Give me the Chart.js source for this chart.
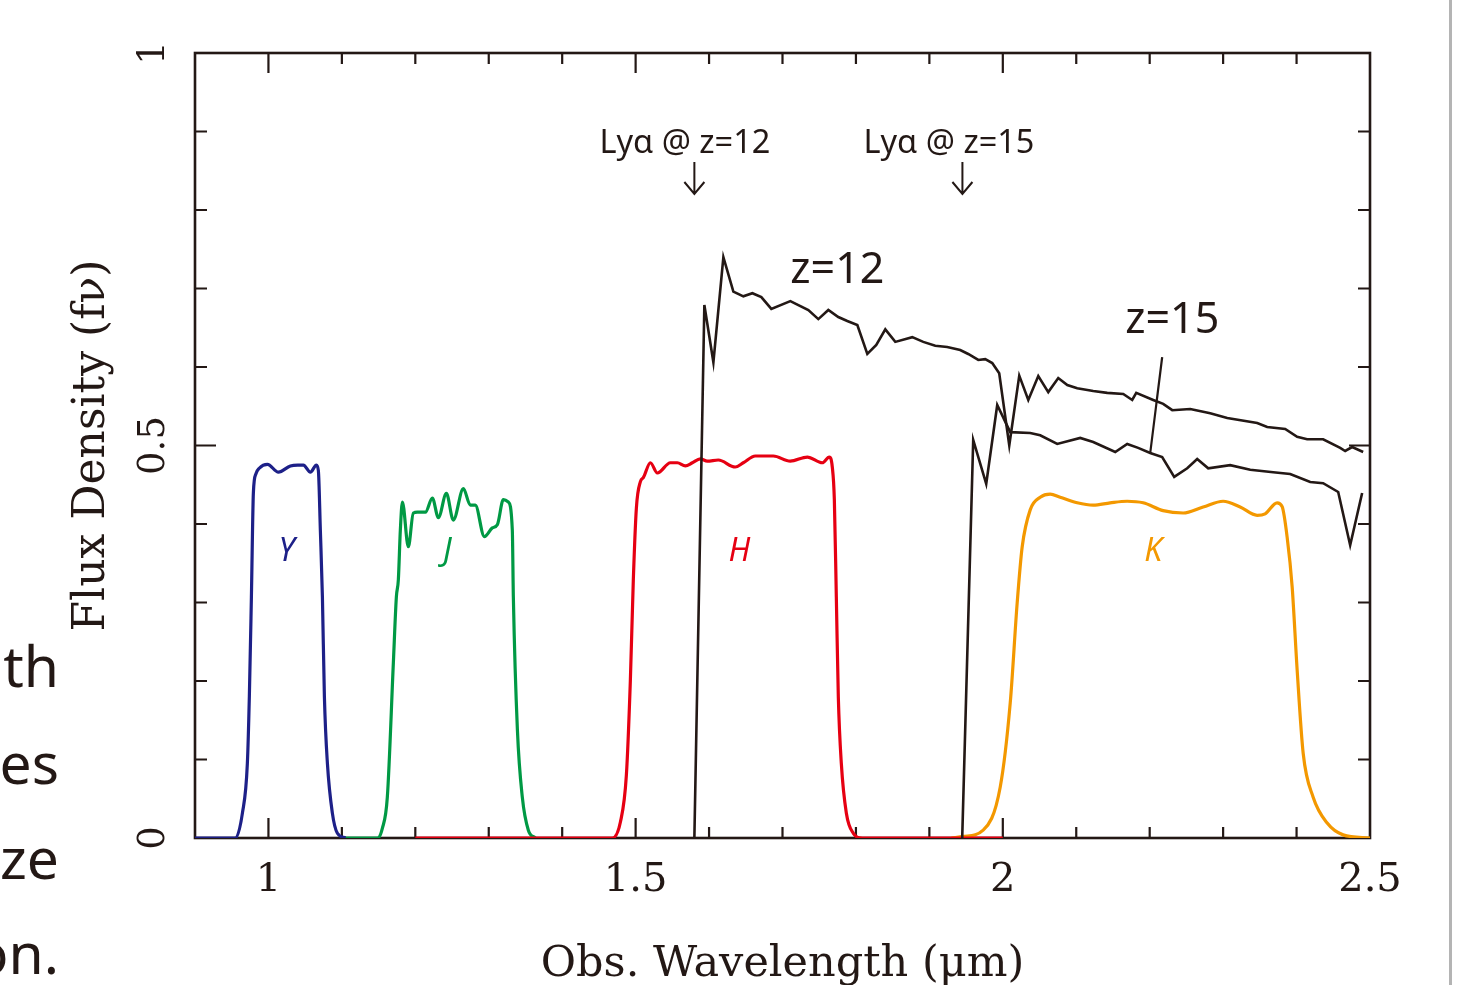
<!DOCTYPE html>
<html>
<head>
<meta charset="utf-8">
<script src="https://cdn.jsdelivr.net/npm/chart.js@4.4.1/dist/chart.umd.min.js"></script>
<style>
  html, body { margin: 0; padding: 0; background: #fff; }
  #wrap { position: relative; width: 1459px; height: 985px; overflow: hidden; background: #fff; }
  #chart { position: absolute; left: 0; top: 0; }
  .slide { position: absolute; right: 1400px; font-family: "Noto Sans", sans-serif; font-size: 57px;
           line-height: 1; color: #231815; white-space: nowrap; }
  #edge { position: absolute; left: 1449px; top: 0; width: 3px; height: 985px; background: #b4b4b4; }
</style>
</head>
<body>
<div id="wrap">
  <canvas id="chart" width="1459" height="985"></canvas>
  <div class="slide" style="top:637px">th</div>
  <div class="slide" style="top:734px">es</div>
  <div class="slide" style="top:829px">ze</div>
  <div class="slide" style="top:924px">on.</div>
  <div id="edge"></div>
</div>
<script>
// ========================== Datos
const yBandWl = [0.90,0.955,0.9646,0.9713,0.974,0.9768,0.9795,0.983,0.9875,0.9986,1.0136,1.0299,1.040,1.0476,1.0571,1.0653,1.068,1.0707,1.0735,1.0762,1.0803,1.087,1.0939,1.105];
const yBandT  = [0,0,0.032,0.095,0.18,0.307,0.44,0.464,0.471,0.476,0.466,0.474,0.475,0.475,0.466,0.475,0.468,0.392,0.307,0.18,0.095,0.032,0.006,0];

const jBandWl = [1.10,1.1485,1.155,1.1619,1.1701,1.1742,1.1769,1.1796,1.1824,1.1905,1.1973,1.2028,1.2137,1.2232,1.2314,1.2423,1.2518,1.2654,1.2749,1.2817,1.294,1.3049,1.3117,1.3199,1.3267,1.3321,1.3335,1.339,1.3457,1.3539,1.3634];
const jBandT  = [0,0,0.012,0.052,0.223,0.307,0.329,0.392,0.428,0.371,0.414,0.415,0.415,0.433,0.408,0.439,0.405,0.445,0.424,0.424,0.384,0.395,0.399,0.431,0.428,0.392,0.307,0.138,0.052,0.01,0];

const hBandWl = [1.20,1.4683,1.4792,1.4874,1.4928,1.4969,1.5010,1.5065,1.5105,1.5201,1.5296,1.5473,1.5568,1.5677,1.5772,1.5881,1.5976,1.6126,1.6357,1.6466,1.663,1.6875,1.7106,1.7338,1.7542,1.7637,1.7678,1.7706,1.7733,1.776,1.7801,1.7869,1.7965,1.8087,2.00];
const hBandT  = [0,0,0.02,0.08,0.2,0.33,0.42,0.454,0.459,0.478,0.465,0.478,0.478,0.474,0.478,0.483,0.480,0.4815,0.4726,0.478,0.4866,0.4866,0.480,0.4853,0.478,0.4853,0.4726,0.431,0.307,0.18,0.095,0.032,0.006,0,0];

const kBandWl = [1.93,1.9461,1.9733,1.9965,2.0101,2.0196,2.0264,2.0373,2.0509,2.0645,2.0781,2.1013,2.1231,2.1462,2.1693,2.1911,2.2183,2.2456,2.2728,2.3000,2.3232,2.3463,2.3572,2.3735,2.3804,2.3872,2.394,2.4008,2.409,2.4226,2.4417,2.4634,2.5];
const kBandT  = [0,0.002,0.01,0.065,0.172,0.3,0.371,0.418,0.434,0.438,0.434,0.427,0.424,0.427,0.429,0.427,0.417,0.414,0.4217,0.429,0.4217,0.411,0.413,0.427,0.422,0.383,0.32,0.214,0.108,0.052,0.019,0.004,0];

const z12Wl   = [1.58,1.5936,1.6059,1.6195,1.6331,1.6467,1.659,1.6712,1.6848,1.7107,1.7352,1.7488,1.7624,1.776,1.7882,1.8019,1.8155,1.8277,1.84,1.8536,1.8767,1.8917,1.908,1.9243,1.942,1.9529,1.9666,1.9761,1.9856,1.9951,2.0088,2.0224,2.0347,2.0483,2.0619,2.0755,2.0878,2.1013,2.1231,2.1422,2.164,2.1762,2.1817,2.2048,2.2184,2.2307,2.2552,2.2824,2.3056,2.3464,2.36,2.3845,2.4008,2.4144,2.4362,2.4594,2.4662,2.4757,2.4907];
const z12Flux = [0,0.679,0.606,0.740,0.696,0.690,0.694,0.689,0.674,0.684,0.6726,0.661,0.6726,0.6637,0.6586,0.6535,0.6166,0.628,0.648,0.632,0.638,0.632,0.627,0.6255,0.6217,0.6166,0.609,0.610,0.605,0.592,0.5,0.589,0.558,0.5885,0.568,0.586,0.577,0.573,0.5694,0.567,0.5656,0.558,0.567,0.558,0.553,0.545,0.5465,0.541,0.535,0.5287,0.5236,0.521,0.511,0.508,0.508,0.497,0.493,0.498,0.4917];

const z15Wl   = [1.9447,1.9597,1.9774,1.9924,2.0101,2.0373,2.0509,2.0741,2.1054,2.1231,2.1531,2.1694,2.1843,2.2007,2.2170,2.2334,2.2511,2.2647,2.2797,2.3096,2.3369,2.3682,2.3913,2.4186,2.4362,2.4567,2.473,2.4893];
const z15Flux = [0,0.507,0.451,0.5516,0.517,0.516,0.513,0.502,0.5096,0.5045,0.4917,0.502,0.497,0.4904,0.4854,0.46,0.471,0.4828,0.471,0.475,0.469,0.466,0.4637,0.4535,0.452,0.4408,0.373,0.4395];

// línea que une la etiqueta z=15 con su espectro
const leaderWl   = [2.2170, 2.2007];
const leaderFlux = [0.6127, 0.4904];

const xTickLabels = [1, 1.5, 2, 2.5];
const yTickLabels = [0, 0.5, 1];

const bandNames  = ['Y', 'J', 'H', 'K'];
const specNames  = ['z=12', 'z=15'];
const lyaNames   = ['Lyα @ z=12', 'Lyα @ z=15'];
const lyaWl      = [1.58, 1.945];

// ========================== Estilos
const ink    = '#231815';
const serif  = '"DejaVu Serif", serif';
const sans   = '"Noto Sans", sans-serif';
const bandColors = ['#1d2088', '#009944', '#e60012', '#f39800'];

// posiciones (en unidades de datos) de las etiquetas
const bandLabelAt = [[1.0247, 0.365], [1.2437, 0.365], [1.6412, 0.365], [2.2048, 0.365]];
const specLabelAt = [[1.7107, 0.707], [2.1668, 0.643]];

const pts = (xs, ys) => xs.map((x, i) => ({ x: x, y: ys[i] }));

function spectrum(label, data) {
    return { label, data, borderColor: ink, borderWidth: 2.6, pointRadius: 0,
             tension: 0, borderJoinStyle: 'miter', fill: false };
}
function band(label, data, color) {
    return { label, data, borderColor: color, borderWidth: 3.2, pointRadius: 0,
             cubicInterpolationMode: 'monotone', fill: false };
}

// ========================== Marco y marcas de los ejes (hacia dentro)
const frameTicks = {
    id: 'frameTicks',
    beforeDatasetsDraw(chart) {
        const { ctx, chartArea: a, scales: { x, y } } = chart;
        ctx.save();
        ctx.strokeStyle = ink;
        ctx.lineWidth = 2.6;
        ctx.strokeRect(a.left, a.top, a.right - a.left, a.bottom - a.top);
        ctx.lineWidth = 2.2;
        ctx.beginPath();
        x.ticks.forEach(t => {
            const v = Math.round(t.value * 10) / 10;
            if (v <= x.min || v >= x.max) return;
            const px = x.getPixelForValue(v);
            const len = xTickLabels.includes(v) ? 20 : 11;
            ctx.moveTo(px, a.bottom); ctx.lineTo(px, a.bottom - len);
            ctx.moveTo(px, a.top);    ctx.lineTo(px, a.top + len);
        });
        y.ticks.forEach(t => {
            const v = Math.round(t.value * 10) / 10;
            if (v <= y.min || v >= y.max) return;
            const py = y.getPixelForValue(v);
            const len = yTickLabels.includes(v) ? 21 : 12;
            ctx.moveTo(a.left, py);  ctx.lineTo(a.left + len, py);
            ctx.moveTo(a.right, py); ctx.lineTo(a.right - len, py);
        });
        ctx.stroke();
        ctx.restore();
    },
    afterDatasetsDraw(chart) {
        const { ctx, scales: { x, y } } = chart;
        ctx.save();
        ctx.fillStyle = ink;

        // etiquetas del eje y, giradas
        ctx.font = '37px ' + serif;
        ctx.textAlign = 'center';
        ctx.textBaseline = 'middle';
        yTickLabels.forEach(v => {
            ctx.save();
            ctx.translate(154, y.getPixelForValue(v));
            ctx.rotate(-Math.PI / 2);
            ctx.fillText(String(v), 0, 0);
            ctx.restore();
        });

        // Lyα con flechas
        ctx.font = '32.5px ' + sans;
        ctx.textAlign = 'left';
        ctx.textBaseline = 'alphabetic';
        ctx.strokeStyle = ink;
        ctx.lineWidth = 2;
        lyaWl.forEach((wl, i) => {
            const px = x.getPixelForValue(wl);
            ctx.fillText(lyaNames[i], px - 95 - i * 4, 153);
            ctx.beginPath();
            ctx.moveTo(px, 162); ctx.lineTo(px, 194);
            ctx.moveTo(px - 10, 182); ctx.lineTo(px, 194); ctx.lineTo(px + 10, 182);
            ctx.stroke();
        });

        // z=12 / z=15
        ctx.font = '43px ' + sans;
        specNames.forEach((s, i) => {
            ctx.fillText(s, x.getPixelForValue(specLabelAt[i][0]), y.getPixelForValue(specLabelAt[i][1]));
        });

        // nombres de los filtros
        ctx.font = 'italic 32px ' + sans;
        ctx.textAlign = 'center';
        ctx.textBaseline = 'middle';
        bandNames.forEach((b, i) => {
            ctx.fillStyle = bandColors[i];
            ctx.fillText(b, x.getPixelForValue(bandLabelAt[i][0]), y.getPixelForValue(bandLabelAt[i][1]));
        });
        ctx.restore();
    }
};

// ========================== Gráfica con Chart.js
new Chart(document.getElementById('chart'), {
    type: 'line',
    data: {
        datasets: [
            spectrum('z=12', pts(z12Wl, z12Flux)),
            spectrum('z=15', pts(z15Wl, z15Flux)),
            { label: 'leader', data: pts(leaderWl, leaderFlux), borderColor: ink, borderWidth: 2.2, pointRadius: 0 },
            band('H', pts(hBandWl, hBandT), bandColors[2]),
            band('Y', pts(yBandWl, yBandT), bandColors[0]),
            band('J', pts(jBandWl, jBandT), bandColors[1]),
            band('K', pts(kBandWl, kBandT), bandColors[3])
        ]
    },
    options: {
        responsive: false,
        animation: false,
        devicePixelRatio: 1,
        layout: { padding: { top: 53, right: 89, left: 0, bottom: 0 } },
        plugins: { legend: { display: false }, tooltip: { enabled: false } },
        scales: {
            x: {
                type: 'linear',
                min: 0.9,
                max: 2.5,
                border: { display: false },
                grid: { display: false, drawTicks: false },
                ticks: {
                    stepSize: 0.1,
                    autoSkip: false,
                    maxRotation: 0,
                    padding: 19,
                    color: ink,
                    font: { family: serif, size: 40 },
                    callback: function (value) {
                        const v = Math.round(value * 10) / 10;
                        return xTickLabels.includes(v) ? String(v) : '';
                    }
                },
                title: {
                    display: true,
                    text: 'Obs. Wavelength (μm)',
                    color: ink,
                    font: { family: serif, size: 43 },
                    padding: { top: 0, bottom: -6 }
                },
                afterFit: function (s) { s.height = 147; }
            },
            y: {
                type: 'linear',
                min: 0,
                max: 1,
                border: { display: false },
                grid: { display: false, drawTicks: false },
                ticks: { stepSize: 0.1, display: false },
                title: {
                    display: true,
                    text: 'Flux Density (fν)',
                    color: ink,
                    font: { family: serif, size: 44 },
                    padding: { top: 66, bottom: 0 }
                },
                afterFit: function (s) { s.width = 195; }
            }
        }
    },
    plugins: [frameTicks]
});
</script>
</body>
</html>
